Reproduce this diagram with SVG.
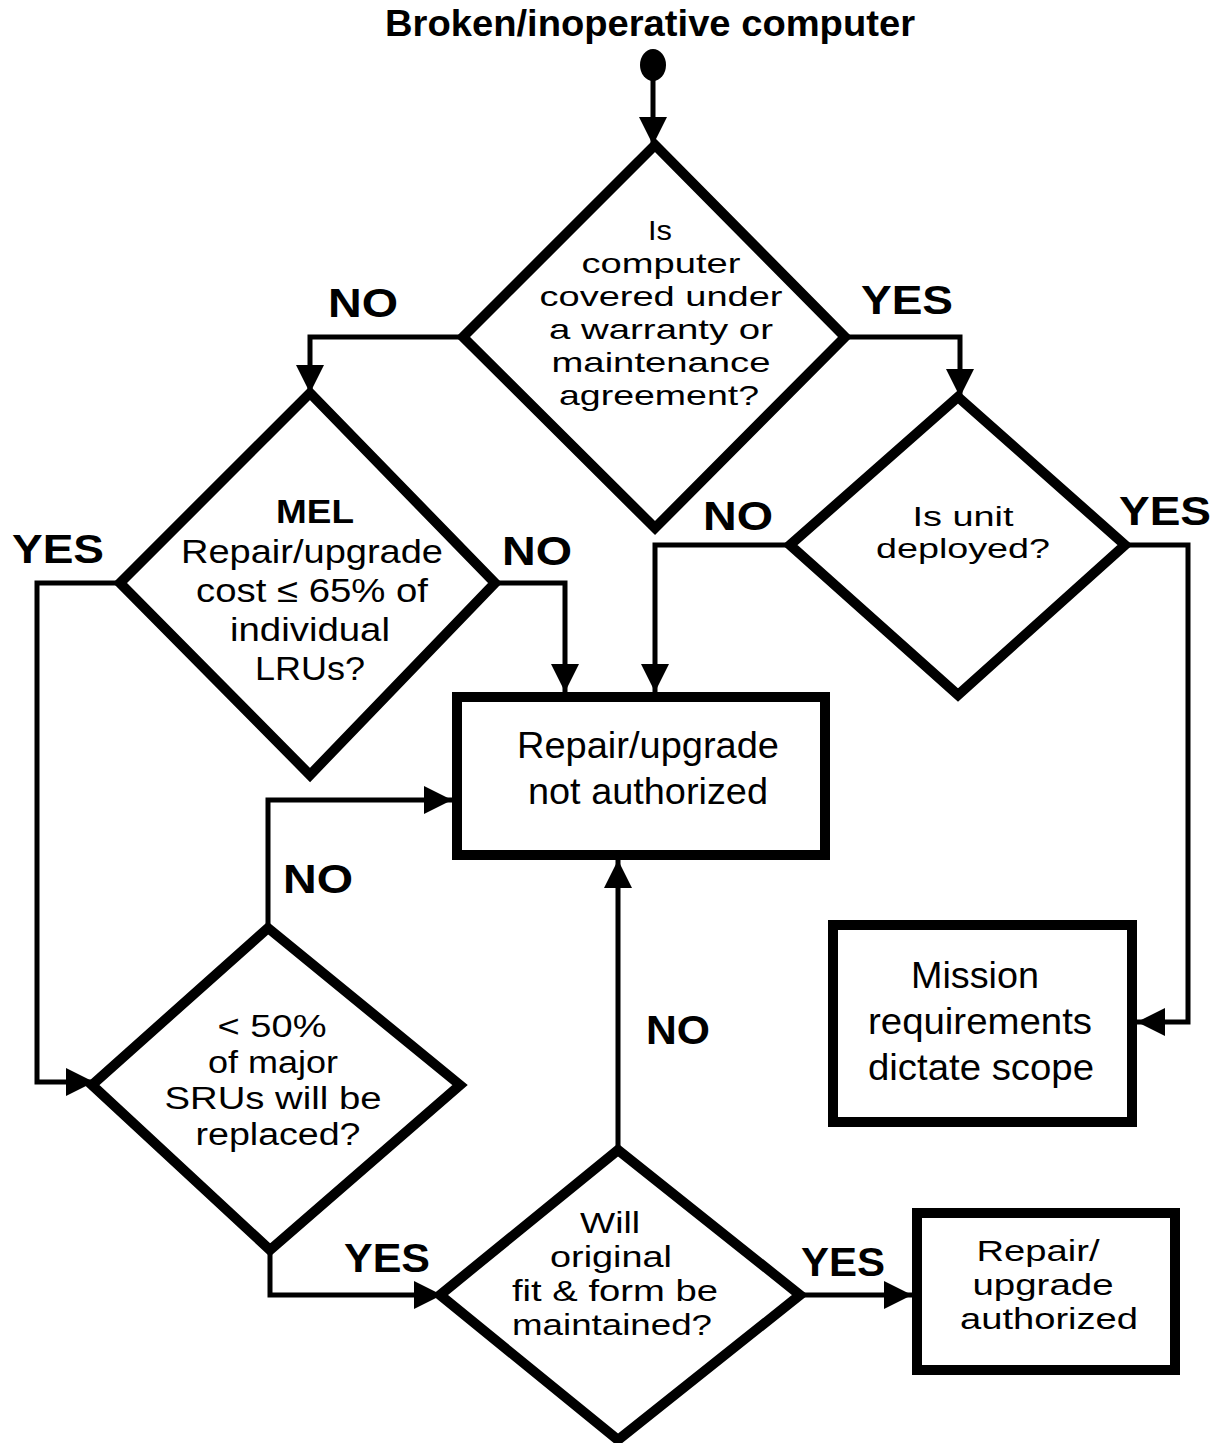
<svg xmlns="http://www.w3.org/2000/svg" width="1218" height="1443" viewBox="0 0 1218 1443">
<style>
.shape{fill:#fff;stroke:#000;stroke-width:10;stroke-linejoin:miter}
.conn{fill:none;stroke:#000;stroke-width:5}
.t{font-family:"Liberation Sans",Arial,sans-serif;fill:#000;text-anchor:middle}
.lbl{font-family:"Liberation Sans",Arial,sans-serif;font-weight:bold;fill:#000;text-anchor:middle}
</style>
<defs>
<marker id="ah" markerUnits="userSpaceOnUse" markerWidth="30" markerHeight="30" refX="28" refY="14" orient="auto">
<path d="M0,0 L28,14 L0,28 z" fill="#000"/>
</marker>
</defs>
<rect width="1218" height="1443" fill="#fff"/>
<text class="lbl" x="650" y="36" font-size="37" textLength="530" lengthAdjust="spacingAndGlyphs">Broken/inoperative computer</text>

<g id="connectors">
<line class="conn" x1="653" y1="70" x2="653" y2="145" marker-end="url(#ah)"/>
<polyline class="conn" points="463,337 310,337 310,393" marker-end="url(#ah)"/>
<polyline class="conn" points="845,337 960,337 960,397" marker-end="url(#ah)"/>
<polyline class="conn" points="790,545 655,545 655,692" marker-end="url(#ah)"/>
<polyline class="conn" points="1125,545 1188,545 1188,1022 1137,1022" marker-end="url(#ah)"/>
<polyline class="conn" points="495,583 565,583 565,692" marker-end="url(#ah)"/>
<polyline class="conn" points="120,583 37,583 37,1082 94,1082" marker-end="url(#ah)"/>
<polyline class="conn" points="268,928 268,800 452,800" marker-end="url(#ah)"/>
<polyline class="conn" points="270,1250 270,1295 442,1295" marker-end="url(#ah)"/>
<line class="conn" x1="618" y1="1150" x2="618" y2="860" marker-end="url(#ah)"/>
<line class="conn" x1="800" y1="1295" x2="912" y2="1295" marker-end="url(#ah)"/>
</g>

<g id="start">
<ellipse cx="653" cy="65" rx="13" ry="16" fill="#000"/>
</g>

<g id="labels" font-size="40">
<text class="lbl" x="363" y="317" textLength="70" lengthAdjust="spacingAndGlyphs">NO</text>
<text class="lbl" x="907" y="314" textLength="92" lengthAdjust="spacingAndGlyphs">YES</text>
<text class="lbl" x="738" y="530" textLength="70" lengthAdjust="spacingAndGlyphs">NO</text>
<text class="lbl" x="1165" y="525" textLength="92" lengthAdjust="spacingAndGlyphs">YES</text>
<text class="lbl" x="537" y="565" textLength="70" lengthAdjust="spacingAndGlyphs">NO</text>
<text class="lbl" x="58" y="563" textLength="92" lengthAdjust="spacingAndGlyphs">YES</text>
<text class="lbl" x="318" y="893" textLength="70" lengthAdjust="spacingAndGlyphs">NO</text>
<text class="lbl" x="387" y="1272" textLength="86" lengthAdjust="spacingAndGlyphs">YES</text>
<text class="lbl" x="678" y="1044" textLength="64" lengthAdjust="spacingAndGlyphs">NO</text>
<text class="lbl" x="843" y="1276" textLength="84" lengthAdjust="spacingAndGlyphs">YES</text>
</g>

<g id="q-warranty" font-size="28.5">
<polygon class="shape" points="655,145 845,337 655,528 463,337"/>
<text class="t" x="660" y="240" textLength="24" lengthAdjust="spacingAndGlyphs">Is</text>
<text class="t" x="661" y="273" textLength="159" lengthAdjust="spacingAndGlyphs">computer</text>
<text class="t" x="661" y="306" textLength="243" lengthAdjust="spacingAndGlyphs">covered under</text>
<text class="t" x="661" y="339" textLength="224" lengthAdjust="spacingAndGlyphs">a warranty or</text>
<text class="t" x="661" y="372" textLength="219" lengthAdjust="spacingAndGlyphs">maintenance</text>
<text class="t" x="659" y="405" textLength="200" lengthAdjust="spacingAndGlyphs">agreement?</text>
</g>

<g id="q-mel" font-size="33.5">
<polygon class="shape" points="310,393 495,583 310,775 120,583"/>
<text class="t" x="315" y="523" font-weight="bold" textLength="78" lengthAdjust="spacingAndGlyphs">MEL</text>
<text class="t" x="312" y="563" textLength="262" lengthAdjust="spacingAndGlyphs">Repair/upgrade</text>
<text class="t" x="312" y="602" textLength="232" lengthAdjust="spacingAndGlyphs">cost ≤ 65% of</text>
<text class="t" x="310" y="641" textLength="160" lengthAdjust="spacingAndGlyphs">individual</text>
<text class="t" x="310" y="680" textLength="110" lengthAdjust="spacingAndGlyphs">LRUs?</text>
</g>

<g id="q-deployed" font-size="27.5">
<polygon class="shape" points="958,397 1125,545 958,695 790,545"/>
<text class="t" x="963" y="526" textLength="101" lengthAdjust="spacingAndGlyphs">Is unit</text>
<text class="t" x="963" y="558" textLength="174" lengthAdjust="spacingAndGlyphs">deployed?</text>
</g>

<g id="r-not-authorized" font-size="36">
<rect class="shape" x="457" y="697" width="368" height="158"/>
<text class="t" x="648" y="758" textLength="262" lengthAdjust="spacingAndGlyphs">Repair/upgrade</text>
<text class="t" x="648" y="804" textLength="240" lengthAdjust="spacingAndGlyphs">not authorized</text>
</g>

<g id="r-mission" font-size="36">
<rect class="shape" x="833" y="925" width="299" height="197"/>
<text class="t" x="975" y="988" textLength="128" lengthAdjust="spacingAndGlyphs">Mission</text>
<text class="t" x="980" y="1034" textLength="224" lengthAdjust="spacingAndGlyphs">requirements</text>
<text class="t" x="981" y="1080" textLength="226" lengthAdjust="spacingAndGlyphs">dictate scope</text>
</g>

<g id="q-sru" font-size="31">
<polygon class="shape" points="268,928 460,1085 270,1250 92,1085"/>
<text class="t" x="272" y="1037" textLength="109" lengthAdjust="spacingAndGlyphs">&lt; 50%</text>
<text class="t" x="273" y="1073" textLength="130" lengthAdjust="spacingAndGlyphs">of major</text>
<text class="t" x="273" y="1109" textLength="217" lengthAdjust="spacingAndGlyphs">SRUs will be</text>
<text class="t" x="278" y="1145" textLength="165" lengthAdjust="spacingAndGlyphs">replaced?</text>
</g>

<g id="q-fit" font-size="29.5">
<polygon class="shape" points="618,1150 800,1295 618,1440 440,1295"/>
<text class="t" x="610" y="1233" textLength="60" lengthAdjust="spacingAndGlyphs">Will</text>
<text class="t" x="611" y="1267" textLength="122" lengthAdjust="spacingAndGlyphs">original</text>
<text class="t" x="615" y="1301" textLength="206" lengthAdjust="spacingAndGlyphs">fit &amp; form be</text>
<text class="t" x="612" y="1335" textLength="200" lengthAdjust="spacingAndGlyphs">maintained?</text>
</g>

<g id="r-authorized" font-size="29.5">
<rect class="shape" x="917" y="1213" width="258" height="157"/>
<text class="t" x="1038" y="1261" textLength="123" lengthAdjust="spacingAndGlyphs">Repair/</text>
<text class="t" x="1043" y="1295" textLength="141" lengthAdjust="spacingAndGlyphs">upgrade</text>
<text class="t" x="1049" y="1329" textLength="178" lengthAdjust="spacingAndGlyphs">authorized</text>
</g>
</svg>
